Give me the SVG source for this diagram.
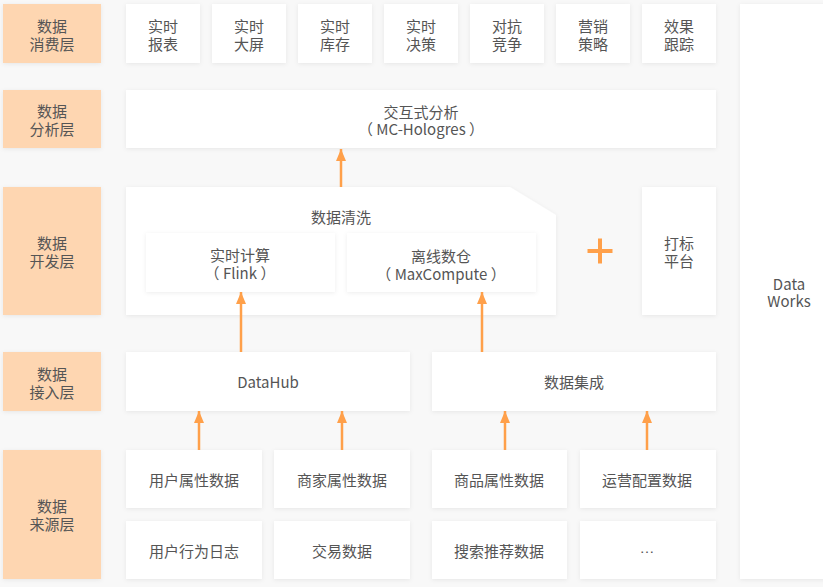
<svg xmlns="http://www.w3.org/2000/svg" width="823" height="587" viewBox="0 0 823 587">
<defs>
<filter id="sh" x="-10%" y="-10%" width="120%" height="120%">
<feDropShadow dx="0" dy="1" stdDeviation="2" flood-color="#000" flood-opacity="0.07"/>
</filter>
<marker id="ah" markerUnits="userSpaceOnUse" markerWidth="12" markerHeight="10" viewBox="0 0 12 10" refX="12" refY="5" orient="auto">
<path d="M0,0 L12,5 L0,10 Z" fill="#ffa04a"/>
</marker>
</defs>
<style>
.bg{fill:#f8f8f8}
.lab{fill:#fed6b1;filter:url(#sh)}
.box{fill:#ffffff;filter:url(#sh)}
text{font-family:"Noto Sans CJK SC","Noto Sans",sans-serif;font-size:15px;fill:#555;text-anchor:middle;dominant-baseline:central}
.con line{stroke:#ffa04a;stroke-width:2.5}
</style>
<rect class="bg" x="0" y="0" width="823" height="587"/>

<g id="layer-consume"><rect class="lab" x="3" y="4" width="98" height="59"/><text><tspan x="52" y="25">数据</tspan><tspan x="52" y="43">消费层</tspan></text></g>
<g id="layer-analysis"><rect class="lab" x="3" y="90" width="98" height="58"/><text><tspan x="52" y="110">数据</tspan><tspan x="52" y="128">分析层</tspan></text></g>
<g id="layer-dev"><rect class="lab" x="3" y="187" width="98" height="128"/><text><tspan x="52" y="242">数据</tspan><tspan x="52" y="260">开发层</tspan></text></g>
<g id="layer-ingest"><rect class="lab" x="3" y="352" width="98" height="59"/><text><tspan x="52" y="373">数据</tspan><tspan x="52" y="391">接入层</tspan></text></g>
<g id="layer-source"><rect class="lab" x="3" y="450" width="98" height="129"/><text><tspan x="52" y="505">数据</tspan><tspan x="52" y="523">来源层</tspan></text></g>

<g id="c1"><rect class="box" x="126" y="4" width="74" height="59"/><text><tspan x="163" y="25">实时</tspan><tspan x="163" y="43">报表</tspan></text></g>
<g id="c2"><rect class="box" x="212" y="4" width="74" height="59"/><text><tspan x="249" y="25">实时</tspan><tspan x="249" y="43">大屏</tspan></text></g>
<g id="c3"><rect class="box" x="298" y="4" width="74" height="59"/><text><tspan x="335" y="25">实时</tspan><tspan x="335" y="43">库存</tspan></text></g>
<g id="c4"><rect class="box" x="384" y="4" width="74" height="59"/><text><tspan x="421" y="25">实时</tspan><tspan x="421" y="43">决策</tspan></text></g>
<g id="c5"><rect class="box" x="470" y="4" width="74" height="59"/><text><tspan x="507" y="25">对抗</tspan><tspan x="507" y="43">竞争</tspan></text></g>
<g id="c6"><rect class="box" x="556" y="4" width="74" height="59"/><text><tspan x="593" y="25">营销</tspan><tspan x="593" y="43">策略</tspan></text></g>
<g id="c7"><rect class="box" x="642" y="4" width="74" height="59"/><text><tspan x="679" y="25">效果</tspan><tspan x="679" y="43">跟踪</tspan></text></g>

<g id="hologres"><rect class="box" x="126" y="90" width="590" height="58"/><text><tspan x="421" y="111">交互式分析</tspan><tspan x="421" y="128">（ MC-Hologres ）</tspan></text></g>

<g id="cleaning"><path class="box" d="M126,187 L510,187 L556,215 L556,315 L126,315 Z"/><text x="341" y="216">数据清洗</text></g>
<g id="flink"><rect class="box" x="146" y="233" width="189" height="59"/><text><tspan x="240" y="254">实时计算</tspan><tspan x="240" y="272">（ Flink ）</tspan></text></g>
<g id="maxcompute"><rect class="box" x="347" y="233" width="189" height="59"/><text><tspan x="441" y="255">离线数仓</tspan><tspan x="441" y="273">（ MaxCompute ）</tspan></text></g>

<g id="plus"><path d="M587.5,251 H612.5 M600,238.5 V263.5" stroke="#ffa04a" stroke-width="4" fill="none"/></g>
<g id="tagging"><rect class="box" x="642" y="187" width="74" height="128"/><text><tspan x="679" y="242">打标</tspan><tspan x="679" y="260">平台</tspan></text></g>

<g id="dataworks"><rect class="box" x="740" y="4" width="100" height="575"/><text><tspan x="789" y="283">Data</tspan><tspan x="789" y="300">Works</tspan></text></g>

<g id="datahub"><rect class="box" x="126" y="352" width="284" height="59"/><text x="268" y="381">DataHub</text></g>
<g id="integration"><rect class="box" x="432" y="352" width="284" height="59"/><text x="574" y="381">数据集成</text></g>

<g id="s1"><rect class="box" x="126" y="450" width="136" height="58"/><text x="194" y="479">用户属性数据</text></g>
<g id="s2"><rect class="box" x="274" y="450" width="136" height="58"/><text x="342" y="479">商家属性数据</text></g>
<g id="s3"><rect class="box" x="432" y="450" width="135" height="58"/><text x="499" y="479">商品属性数据</text></g>
<g id="s4"><rect class="box" x="580" y="450" width="136" height="58"/><text x="647" y="479">运营配置数据</text></g>
<g id="s5"><rect class="box" x="126" y="521" width="136" height="58"/><text x="194" y="550">用户行为日志</text></g>
<g id="s6"><rect class="box" x="274" y="521" width="136" height="58"/><text x="342" y="550">交易数据</text></g>
<g id="s7"><rect class="box" x="432" y="521" width="135" height="58"/><text x="499" y="550">搜索推荐数据</text></g>
<g id="s8"><rect class="box" x="580" y="521" width="136" height="58"/><text x="647" y="547" style="font-family:'Liberation Sans',sans-serif">…</text></g>

<g class="con" id="connectors">
<line x1="341" y1="187" x2="341" y2="149" marker-end="url(#ah)"/>
<line x1="241" y1="352" x2="241" y2="292" marker-end="url(#ah)"/>
<line x1="482" y1="352" x2="482" y2="292" marker-end="url(#ah)"/>
<line x1="199" y1="450" x2="199" y2="411" marker-end="url(#ah)"/>
<line x1="342" y1="450" x2="342" y2="411" marker-end="url(#ah)"/>
<line x1="505" y1="450" x2="505" y2="411" marker-end="url(#ah)"/>
<line x1="647" y1="450" x2="647" y2="411" marker-end="url(#ah)"/>
</g>
</svg>
